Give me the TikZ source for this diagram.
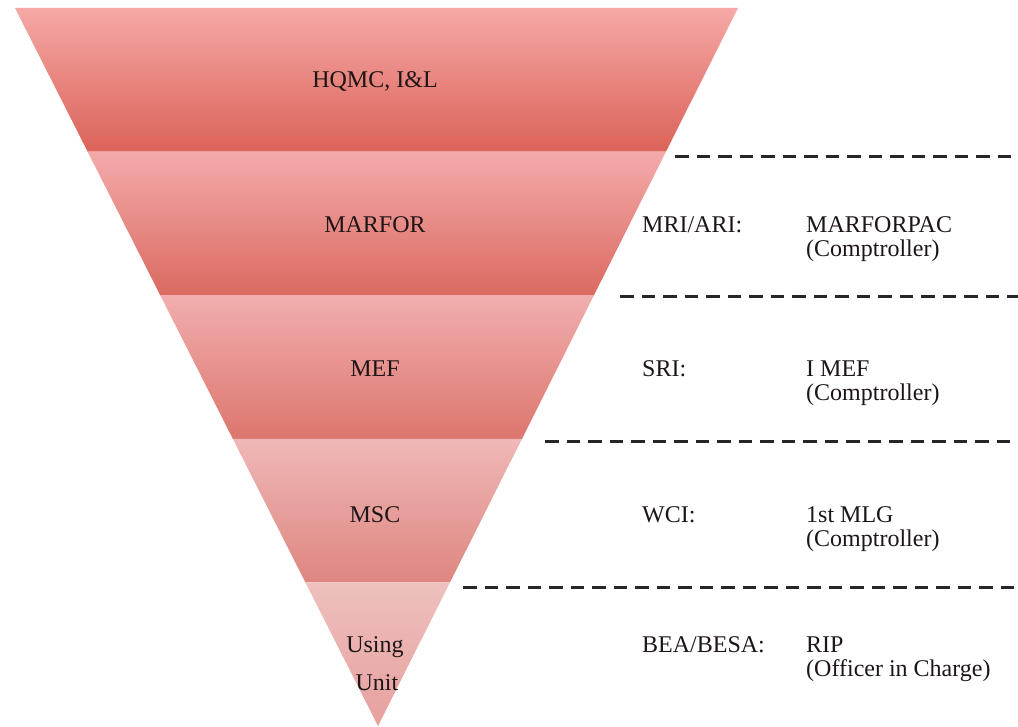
\documentclass[tikz,border=0pt]{standalone}
\usepackage{fontspec}
\setmainfont{Liberation Serif}
\usetikzlibrary{calc}
\definecolor{txt}{RGB}{30,22,22}
\definecolor{aT}{RGB}{246,168,166}\definecolor{aB}{RGB}{219,99,88}
\definecolor{bT}{RGB}{243,170,170}\definecolor{bB}{RGB}{219,106,97}
\definecolor{cT}{RGB}{241,174,174}\definecolor{cB}{RGB}{221,118,110}
\definecolor{dT}{RGB}{239,184,182}\definecolor{dB}{RGB}{222,134,128}
\definecolor{eT}{RGB}{238,192,190}\definecolor{eB}{RGB}{230,160,158}
\begin{document}
\begin{tikzpicture}[x=1pt,y=-1pt,
  lbl/.style={font=\fontsize{24}{28}\selectfont, text=txt, inner sep=0pt},
  clbl/.style={lbl, anchor=base},
  rlbl/.style={lbl, anchor=base west},
  sepline/.style={line width=3pt, dash pattern=on 13.5pt off 8pt, color=black!85}]
\useasboundingbox (0,0) rectangle (1018,727);
\coordinate (TL) at (15,8);
\coordinate (TR) at (738,8);
\coordinate (A) at (378,726);
\path (TL) -- (A) coordinate[pos=0.2] (L1) coordinate[pos=0.4] (L2)
                  coordinate[pos=0.6] (L3) coordinate[pos=0.8] (L4);
\path (TR) -- (A) coordinate[pos=0.2] (R1) coordinate[pos=0.4] (R2)
                  coordinate[pos=0.6] (R3) coordinate[pos=0.8] (R4);
% bands
\shade[top color=aT, bottom color=aB] (TL) -- (TR) -- (R1) -- (L1) -- cycle;
\shade[top color=bT, bottom color=bB] (L1) -- (R1) -- (R2) -- (L2) -- cycle;
\shade[top color=cT, bottom color=cB] (L2) -- (R2) -- (R3) -- (L3) -- cycle;
\shade[top color=dT, bottom color=dB] (L3) -- (R3) -- (R4) -- (L4) -- cycle;
\shade[top color=eT, bottom color=eB] (L4) -- (R4) -- (A) -- cycle;
% band labels
\node[clbl] (hq) at (375,88) {HQMC, I\&L};
\node[clbl] (marfor) at (375,233) {MARFOR};
\node[clbl] (mef) at (375,377) {MEF};
\node[clbl] (msc) at (375,522) {MSC};
\node[clbl] (using) at (375,652) {Using};
\node[clbl] (unit) at (377,690) {Unit};
% dashed separators
\coordinate (d1s) at (675,157); \coordinate (d1e) at (1018,157);
\coordinate (d2s) at (620,297); \coordinate (d2e) at (1018,297);
\coordinate (d3s) at (545,441); \coordinate (d3e) at (1018,441);
\coordinate (d4s) at (463,587); \coordinate (d4e) at (1018,587);
\draw[sepline] (d1s) -- (d1e);
\draw[sepline] (d2s) -- (d2e);
\draw[sepline] (d3s) -- (d3e);
\draw[sepline] (d4s) -- (d4e);
% right column
\node[rlbl] (k1) at (642,233) {MRI/ARI:};
\node[rlbl] (v1a) at (806,233) {MARFORPAC};
\node[rlbl] (v1b) at (806,257) {(Comptroller)};
\node[rlbl] (k2) at (642,377) {SRI:};
\node[rlbl] (v2a) at (806,377) {I MEF};
\node[rlbl] (v2b) at (806,401) {(Comptroller)};
\node[rlbl] (k3) at (642,522) {WCI:};
\node[rlbl] (v3a) at (806,522) {1st MLG};
\node[rlbl] (v3b) at (806,546) {(Comptroller)};
\node[rlbl] (k4) at (642,652) {BEA/BESA:};
\node[rlbl] (v4a) at (806,652) {RIP};
\node[rlbl] (v4b) at (806,676) {(Officer in Charge)};
\end{tikzpicture}
\end{document}
